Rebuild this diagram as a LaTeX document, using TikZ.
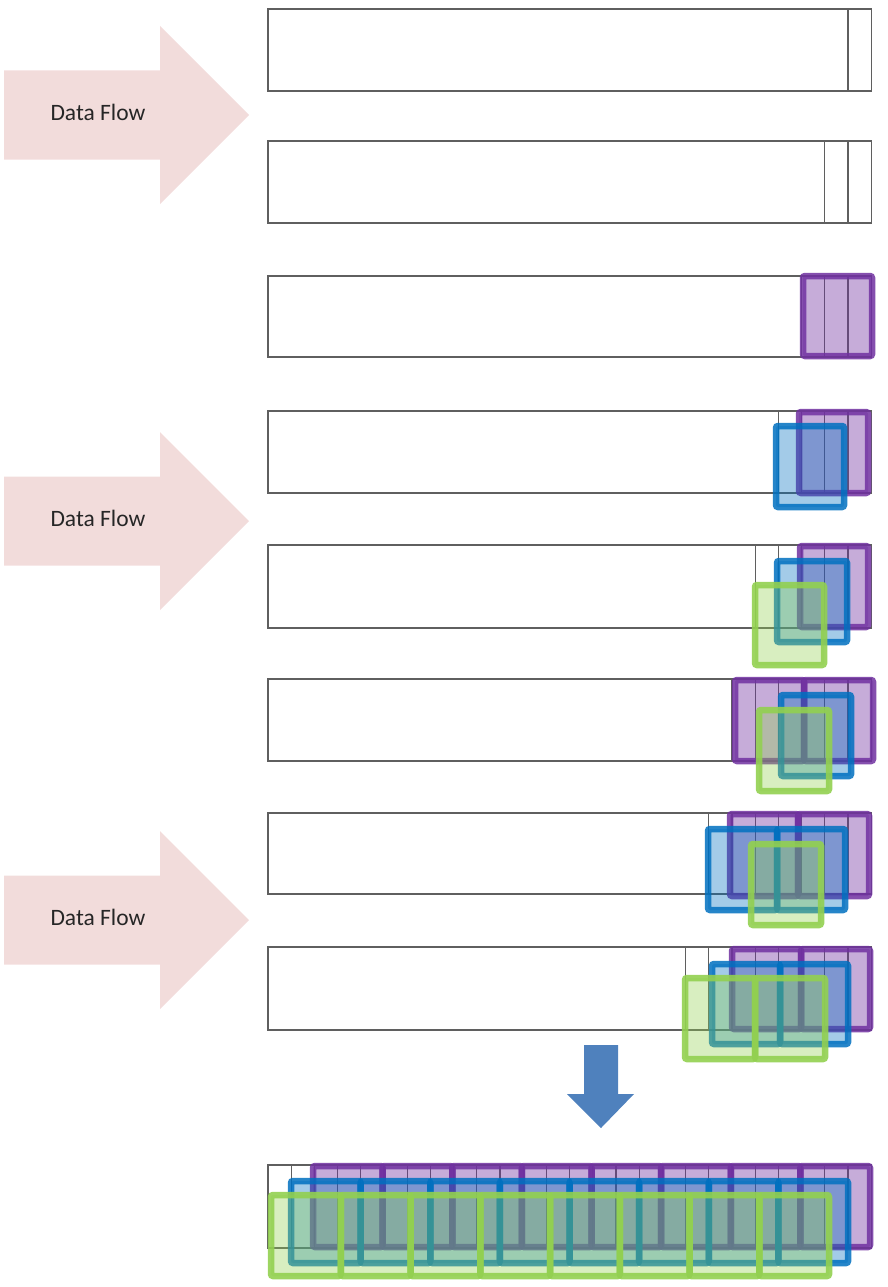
\documentclass[tikz,border=0pt]{standalone}
\usepackage{fontspec}
\setmainfont{Carlito}
\definecolor{flowpink}{RGB}{242,220,219}
\definecolor{bargray}{RGB}{95,95,95}
\definecolor{pcol}{RGB}{112,48,160}
\definecolor{bcol}{RGB}{0,112,192}
\definecolor{gcol}{RGB}{146,208,80}
\definecolor{downblue}{RGB}{79,129,189}
\tikzset{
  flowarrow/.style={fill=flowpink},
  flowtext/.style={font=\fontsize{23.5}{26}\selectfont, text=black!85, inner sep=0pt},
  barline/.style={draw=bargray, line width=1.1pt},
  cellbox/.style={line width=6.5pt, rounded corners=2pt, draw opacity=.85, fill opacity=.4},
  pbox/.style={cellbox, draw=pcol, fill=pcol},
  bbox/.style={cellbox, draw=bcol, fill=bcol, fill opacity=.36},
  gbox/.style={cellbox, draw=gcol, fill=gcol, fill opacity=.36, draw opacity=.9},
  downarrow/.style={fill=downblue}
}
\newcommand\drawrow[3]{% top, bottom, first inner cell line
  \draw[barline] (268,#1) rectangle (871.2,#2);
  \foreach \k in {#3,...,25} \draw[barline] ({268+23.2*\k},#1) -- ({268+23.2*\k},#2);
}
\begin{document}
\begin{tikzpicture}[x=1pt,y=-1pt]
\useasboundingbox (0,0) rectangle (888,1287);
% Data flow arrows
\foreach \n/\c in {1/115,2/521,3/920} {
  \path[flowarrow] (4,\c-44.5) -- (160,\c-44.5) -- (160,\c-89) -- (249,\c)
    -- (160,\c+89) -- (160,\c+44.5) -- (4,\c+44.5) -- cycle;
  \node[flowtext] (flow\n) at (98,\c-3) {Data Flow};
}
% rows
\drawrow{9}{91}{25}
\drawrow{141}{223}{24}
\drawrow{276}{357}{23}
\drawrow{411}{493}{22}
\drawrow{545}{628}{21}
\drawrow{679}{761}{20}
\drawrow{813}{894}{19}
\drawrow{947}{1030}{18}
\drawrow{1165}{1248}{1}
% row 3
\draw[pbox] (803,276) rectangle (872,356);
% row 4
\draw[pbox] (799,412) rectangle (868,493);
\draw[bbox] (776,426) rectangle (844,507);
% row 5
\draw[pbox] (800,546) rectangle (868,627);
\draw[bbox] (777,561) rectangle (847,642);
\draw[gbox] (755,585) rectangle (824,665);
% row 6
\draw[pbox] (735,680) rectangle (804,761);
\draw[pbox] (804,680) rectangle (873,761);
\draw[bbox] (781,695) rectangle (851,776);
\draw[gbox] (759,710) rectangle (829,791);
% row 7
\draw[pbox] (730,814) rectangle (798,896);
\draw[pbox] (798,814) rectangle (869,896);
\draw[bbox] (708,829) rectangle (777,910);
\draw[bbox] (777,829) rectangle (845,910);
\draw[gbox] (751,844) rectangle (821,925);
% row 8
\draw[pbox] (732,949) rectangle (801,1029);
\draw[pbox] (801,949) rectangle (870,1029);
\draw[bbox] (712,964) rectangle (780,1044);
\draw[bbox] (780,964) rectangle (848,1044);
\draw[gbox] (685,978) rectangle (755,1059);
\draw[gbox] (755,978) rectangle (825,1059);
% down arrow
\path[downarrow] (584,1045) -- (618,1045) -- (618,1094) -- (634,1094) -- (601,1128)
  -- (567,1094) -- (584,1094) -- cycle;
% bottom row
\foreach \i in {0,...,7} \draw[pbox] ({313+69.625*\i},1166) rectangle ({313+69.625*(\i+1)},1247);
\foreach \i in {0,...,7} \draw[bbox] ({291+69.625*\i},1181) rectangle ({291+69.625*(\i+1)},1263);
\foreach \i in {0,...,7} \draw[gbox] ({271+69.75*\i},1195) rectangle ({271+69.75*(\i+1)},1276);
\end{tikzpicture}
\end{document}
